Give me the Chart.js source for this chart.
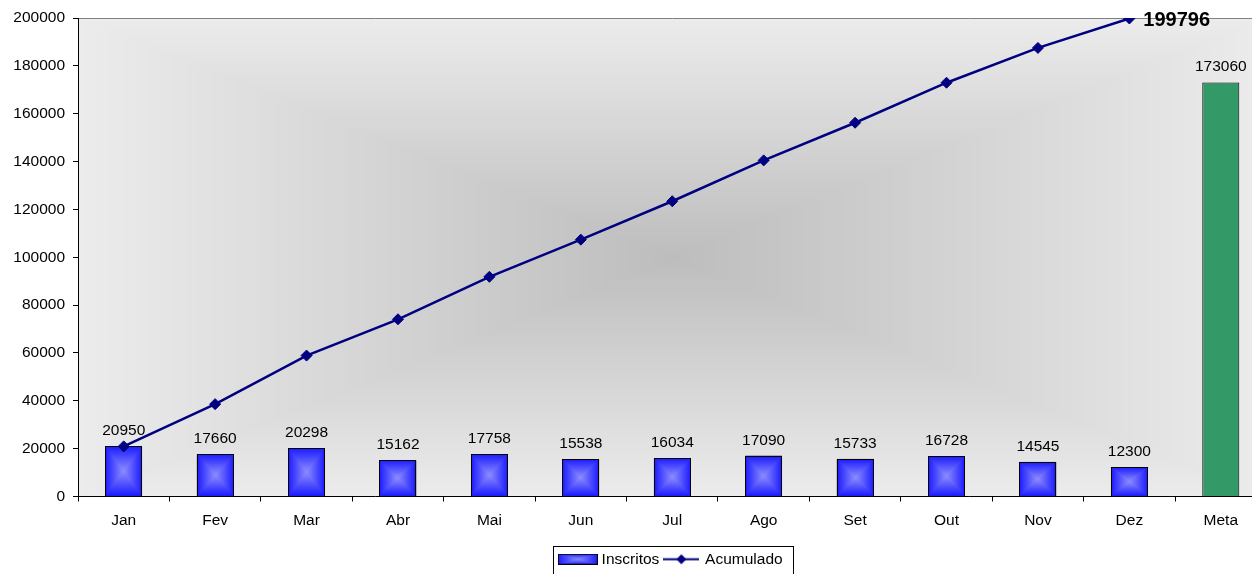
<!DOCTYPE html>
<html>
<head>
<meta charset="utf-8">
<script src="https://cdn.jsdelivr.net/npm/chart.js@4.4.1/dist/chart.umd.min.js"></script>
<style>
  html, body { margin: 0; padding: 0; background: #fff; overflow: hidden; }
  #wrap { width: 1273px; height: 577px; position: relative; }
</style>
</head>
<body>
<div id="wrap"><canvas id="graph"></canvas></div>
<script>
// monthly sign-ups, running total and yearly goal
const meses = ['Jan', 'Fev', 'Mar', 'Abr', 'Mai', 'Jun', 'Jul', 'Ago', 'Set', 'Out', 'Nov', 'Dez'];
const inscritos = [20950, 17660, 20298, 15162, 17758, 15538, 16034, 17090, 15733, 16728, 14545, 12300];
const acumulado = [20950, 38610, 58908, 74070, 91828, 107366, 123400, 140490, 156223, 172951, 187496, 199796];
const metaLabel = 'Meta';
const meta = 173060;
const yMin = 0, yMax = 200000, yStep = 20000;

const FONT = "'Liberation Sans', Arial, sans-serif";
const NAVY = '#000080';
const BAR_EDGE = [26, 26, 255], BAR_MID = [140, 140, 255];
const BG_EDGE = [236, 236, 236], BG_MID = [189, 189, 189];

// rectangular "from center" gradient, built pixel by pixel on a scratch canvas
function centerGradient(w, h, edge, mid) {
  w = Math.max(1, Math.round(w)); h = Math.max(1, Math.round(h));
  const c = document.createElement('canvas');
  c.width = w; c.height = h;
  const g = c.getContext('2d');
  const img = g.createImageData(w, h);
  const hw = w / 2, hh = h / 2;
  for (let y = 0; y < h; y++) {
    const ty = Math.abs(y + 0.5 - hh) / hh;
    for (let x = 0; x < w; x++) {
      const t = Math.max(ty, Math.abs(x + 0.5 - hw) / hw);
      const k = (y * w + x) * 4;
      img.data[k] = mid[0] + (edge[0] - mid[0]) * t;
      img.data[k + 1] = mid[1] + (edge[1] - mid[1]) * t;
      img.data[k + 2] = mid[2] + (edge[2] - mid[2]) * t;
      img.data[k + 3] = 255;
    }
  }
  g.putImageData(img, 0, 0);
  return c;
}

function swatchBar() {
  const c = centerGradient(40, 11, BAR_EDGE, BAR_MID);
  const g = c.getContext('2d');
  g.strokeStyle = '#000';
  g.lineWidth = 1;
  g.strokeRect(0.5, 0.5, 39, 10);
  return c;
}

function swatchLine() {
  const c = document.createElement('canvas');
  c.width = 36; c.height = 13;
  const g = c.getContext('2d');
  g.strokeStyle = NAVY;
  g.lineWidth = 2;
  g.beginPath(); g.moveTo(0, 6.5); g.lineTo(36, 6.5); g.stroke();
  g.fillStyle = NAVY;
  g.beginPath();
  g.moveTo(18, 1.5); g.lineTo(23, 6.5); g.lineTo(18, 11.5); g.lineTo(13, 6.5);
  g.closePath(); g.fill();
  return c;
}

const plotBg = {
  id: 'plotBg',
  beforeDraw(chart) {
    const { ctx, chartArea: a } = chart;
    const x0 = Math.round(a.left), y0 = Math.round(a.top);
    const x1 = Math.round(a.right), y1 = Math.round(a.bottom);
    ctx.save();
    ctx.drawImage(centerGradient(x1 - x0, y1 - y0, BG_EDGE, BG_MID), x0, y0);
    ctx.strokeStyle = '#808080';
    ctx.lineWidth = 1;
    ctx.beginPath();
    ctx.moveTo(x0, y0 + 0.5);
    ctx.lineTo(x1, y0 + 0.5);
    ctx.stroke();
    ctx.restore();
  }
};

const barShade = {
  id: 'barShade',
  afterDatasetDraw(chart, args) {
    if (args.index !== 0) return;
    const ctx = chart.ctx;
    ctx.save();
    args.meta.data.forEach((el, i) => {
      if (i >= inscritos.length) return;
      const p = el.getProps(['x', 'y', 'base', 'width'], true);
      const x0 = Math.round(p.x - p.width / 2), x1 = Math.round(p.x + p.width / 2);
      const y0 = Math.round(p.y), y1 = Math.round(p.base);
      ctx.drawImage(centerGradient(x1 - x0, y1 - y0, BAR_EDGE, BAR_MID), x0, y0);
      ctx.strokeStyle = '#000';
      ctx.lineWidth = 1;
      ctx.strokeRect(x0 + 0.5, y0 + 0.5, x1 - x0 - 1, y1 - y0);
    });
    ctx.restore();
  }
};

const valueLabels = {
  id: 'valueLabels',
  afterDatasetsDraw(chart) {
    const ctx = chart.ctx;
    ctx.save();
    ctx.fillStyle = '#000';
    ctx.textAlign = 'center';
    ctx.textBaseline = 'alphabetic';
    ctx.font = '15.5px ' + FONT;
    const bars = chart.getDatasetMeta(0).data;
    const vals = chart.data.datasets[0].data;
    bars.forEach((el, i) => {
      ctx.fillText(String(vals[i]), el.x, el.y - 11);
    });
    // total at the last point of the running line
    const pts = chart.getDatasetMeta(1).data;
    const last = acumulado.length - 1;
    ctx.font = 'bold 20px ' + FONT;
    ctx.textAlign = 'left';
    ctx.textBaseline = 'middle';
    ctx.fillText(String(acumulado[last]), pts[last].x + 14, pts[last].y + 1.5);
    ctx.restore();
  }
};

const legendFrame = {
  id: 'legendFrame',
  afterDraw(chart) {
    const hb = chart.legend.legendHitBoxes;
    if (!hb || !hb.length) return;
    const first = hb[0], lastBox = hb[hb.length - 1];
    const cy = first.top + first.height / 2;
    const left = Math.round(first.left - 9) + 0.5;
    const right = Math.round(lastBox.left + lastBox.width + 10) + 0.5;
    const top = Math.round(cy - 13) + 0.5;
    const ctx = chart.ctx;
    ctx.save();
    ctx.strokeStyle = '#000';
    ctx.lineWidth = 1;
    ctx.strokeRect(left, top, right - left, 40);
    ctx.restore();
  }
};

const barColors = inscritos.map(() => '#1a1aff').concat(['#339966']);

new Chart(document.getElementById('graph'), {
  type: 'bar',
  data: {
    labels: meses.concat([metaLabel]),
    datasets: [
      {
        label: 'Inscritos',
        data: inscritos.concat([meta]),
        backgroundColor: barColors,
        borderColor: '#000',
        borderWidth: 1,
        barPercentage: 0.405,
        categoryPercentage: 1,
        order: 2
      },
      {
        type: 'line',
        label: 'Acumulado',
        data: acumulado.concat([null]),
        borderColor: NAVY,
        borderWidth: 2.5,
        pointStyle: 'rectRot',
        pointRadius: 5.5,
        pointBackgroundColor: NAVY,
        pointBorderColor: NAVY,
        pointBorderWidth: 1,
        tension: 0,
        order: 1
      }
    ]
  },
  options: {
    responsive: true,
    maintainAspectRatio: false,
    animation: false,
    events: [],
    layout: { padding: { left: 0, right: 0, top: 18, bottom: 0 } },
    scales: {
      x: {
        grid: { display: true, drawOnChartArea: false, drawTicks: true, tickLength: 5, color: '#000', offset: true },
        border: { display: true, color: '#000', width: 1 },
        ticks: { color: '#000', font: { family: FONT, size: 15.5 }, padding: 10, maxRotation: 0, autoSkip: false },
        afterFit: s => { s.height = 49; }
      },
      y: {
        min: yMin,
        max: yMax,
        grid: { display: true, drawOnChartArea: false, drawTicks: true, tickLength: 5, color: '#000' },
        border: { display: true, color: '#000', width: 1 },
        ticks: { stepSize: yStep, color: '#000', font: { family: FONT, size: 15.5 }, padding: 8, callback: v => String(v) },
        afterFit: s => { s.width = 78; }
      }
    },
    plugins: {
      tooltip: { enabled: false },
      legend: {
        position: 'bottom',
        fullSize: false,
        labels: {
          color: '#000',
          font: { family: FONT, size: 15.5 },
          usePointStyle: true,
          pointStyleWidth: 32,
          padding: 6,
          generateLabels: () => [
            { text: 'Inscritos', pointStyle: swatchBar(), fillStyle: '#1a1aff', strokeStyle: '#000', lineWidth: 1, hidden: false, datasetIndex: 0 },
            { text: 'Acumulado', pointStyle: swatchLine(), fillStyle: NAVY, strokeStyle: NAVY, lineWidth: 1, hidden: false, datasetIndex: 1 }
          ]
        }
      }
    }
  },
  plugins: [plotBg, barShade, valueLabels, legendFrame]
});
</script>
</body>
</html>
